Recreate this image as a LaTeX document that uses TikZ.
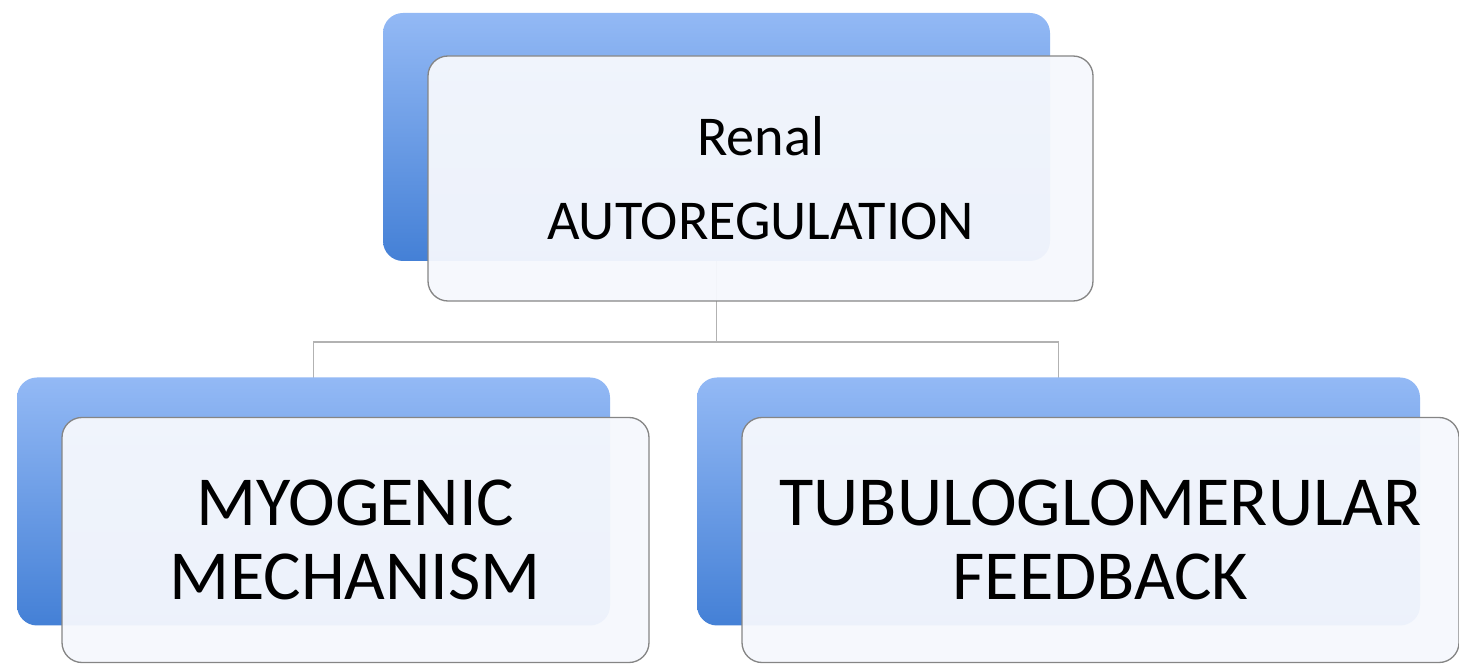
\documentclass[tikz,border=0pt]{standalone}
\usepackage{fontspec}
\setmainfont{Carlito}
\usetikzlibrary{backgrounds}

\definecolor{blueTop}{HTML}{93B9F5}
\definecolor{blueBottom}{HTML}{4480D6}
\definecolor{cardFill}{HTML}{F6F8FD}
\definecolor{cardLine}{HTML}{858585}

\begin{document}
\begin{tikzpicture}[
    backcard/.style = {
        rectangle,
        rounded corners = 0.4cm,
        top color = blueTop,
        bottom color = blueBottom,
        minimum height = 4.96cm
    },
    frontcard/.style = {
        draw = cardLine,
        rectangle,
        rounded corners = 0.4cm,
        fill = cardFill,
        fill opacity = 0.95,
        text opacity = 1,
        align = center,
        line width = 0.75pt,
        minimum height = 4.9cm
    },
    link/.style = {
        draw = gray!60,
        line width = 0.7pt
    }
]

\useasboundingbox (0, 0) rectangle (29.18, 13.34);

% Top card
\node[backcard, minimum width = 13.34cm] (topback) at (14.33, 10.6) {};
\node[frontcard, minimum width = 13.3cm, font = \fontsize{32}{48}\selectfont]
    (top) at (15.21, 9.77) {Renal\\AUTOREGULATION};

% Bottom cards
\foreach \name / \x / \w / \label in {%
    left/6.27/11.86/{MYOGENIC\\MECHANISM},
    right/21.17/14.46/{TUBULOGLOMERULAR\\FEEDBACK}} {
    \node[backcard, minimum width = \w cm] (\name back) at (\x, 3.31) {};
    \node[frontcard, minimum width = \w cm - 0.12cm, font = \fontsize{40}{42}\selectfont]
        (\name) at (\x + 0.84, 2.54) {\label};
}

% Connectors
\coordinate (bus) at (0, 6.5);
\begin{scope}[on background layer]
    \draw[link] (topback.center) -- (topback.center |- bus) -| (leftback.center);
    \draw[link] (topback.center |- bus) -| (rightback.center);
\end{scope}

\end{tikzpicture}
\end{document}
